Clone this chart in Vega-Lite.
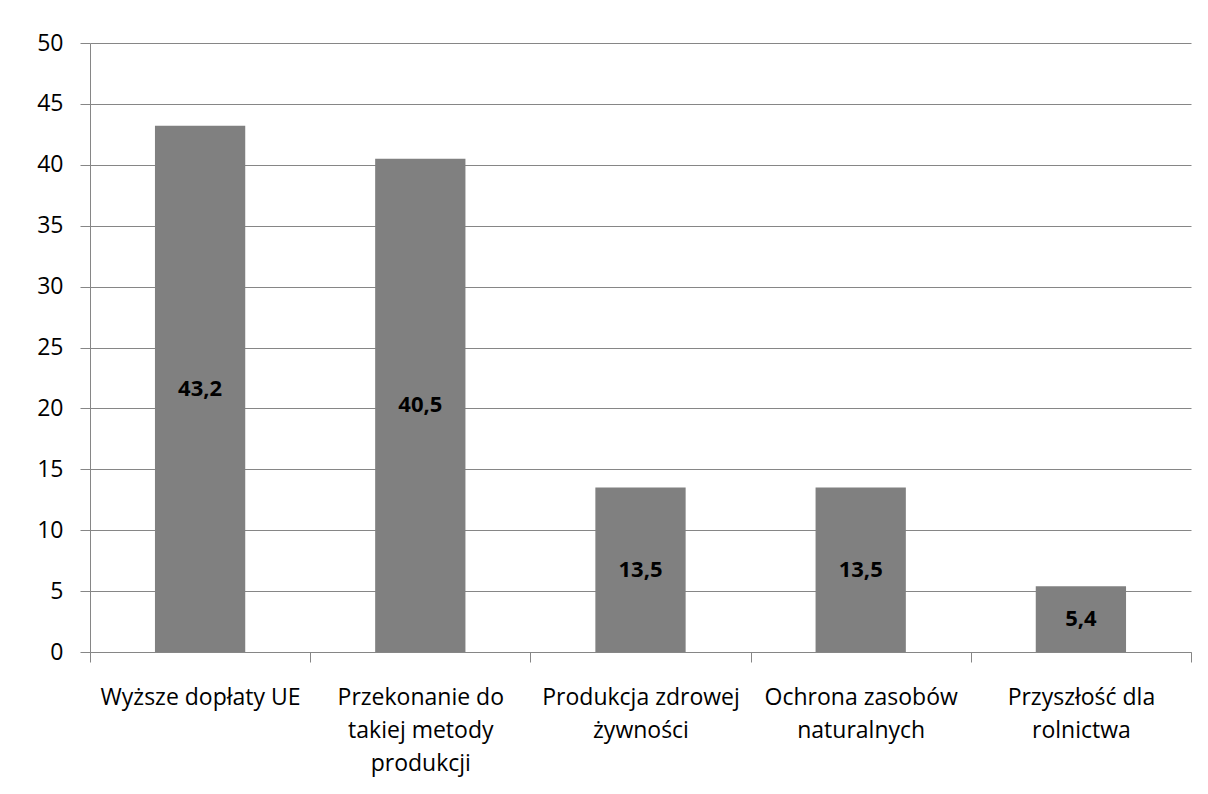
{
  "$schema": "https://vega.github.io/schema/vega-lite/v6.json",
  "width": 1101,
  "height": 609,
  "autosize": {"type": "none"},
  "padding": {"left": 90, "top": 43, "right": 17, "bottom": 142},
  "background": "white",
  "config": {
    "view": {"stroke": null},
    "font": "Open Sans",
    "locale": {
      "number": {"decimal": ",", "thousands": " ", "grouping": [3], "currency": ["", " zł"]}
    }
  },
  "data": {
    "values": [
      {"motyw": "Wyższe dopłaty UE", "odsetek": 43.2},
      {"motyw": "Przekonanie do|takiej metody|produkcji", "odsetek": 40.5},
      {"motyw": "Produkcja zdrowej|żywności", "odsetek": 13.5},
      {"motyw": "Ochrona zasobów|naturalnych", "odsetek": 13.5},
      {"motyw": "Przyszłość dla|rolnictwa", "odsetek": 5.4}
    ]
  },
  "layer": [
    {
      "mark": {"type": "bar", "color": "#808080", "width": {"band": 0.41}},
      "encoding": {
        "x": {
          "field": "motyw",
          "type": "nominal",
          "sort": null,
          "scale": {"paddingInner": 0, "paddingOuter": 0},
          "axis": {
            "title": null,
            "labelAngle": 0,
            "labelExpr": "datum.value ? split(datum.value, '|') : ''",
            "labelFontSize": 23,
            "labelColor": "#000000",
            "labelLineHeight": 33,
            "labelPadding": 24,
            "labelLimit": 0,
            "tickBand": "extent",
            "tickSize": 10,
            "tickColor": "#868686",
            "domainColor": "#868686",
            "grid": false
          }
        },
        "y": {
          "field": "odsetek",
          "type": "quantitative",
          "scale": {"domain": [0, 50], "nice": false},
          "axis": {
            "title": null,
            "values": [0, 5, 10, 15, 20, 25, 30, 35, 40, 45, 50],
            "format": "d",
            "labelFontSize": 23,
            "labelColor": "#000000",
            "labelPadding": 17,
            "tickSize": 10,
            "tickColor": "#868686",
            "domainColor": "#868686",
            "grid": true,
            "gridColor": "#868686"
          }
        }
      }
    },
    {
      "mark": {"type": "text", "fontWeight": "bold", "fontSize": 22, "color": "#000000"},
      "encoding": {
        "x": {"field": "motyw", "type": "nominal", "sort": null},
        "y": {
          "field": "odsetek",
          "type": "quantitative",
          "scale": {"domain": [0, 100], "nice": false},
          "axis": null
        },
        "text": {"field": "odsetek", "type": "quantitative", "format": ".1f"}
      }
    }
  ],
  "resolve": {"scale": {"y": "independent"}}
}
